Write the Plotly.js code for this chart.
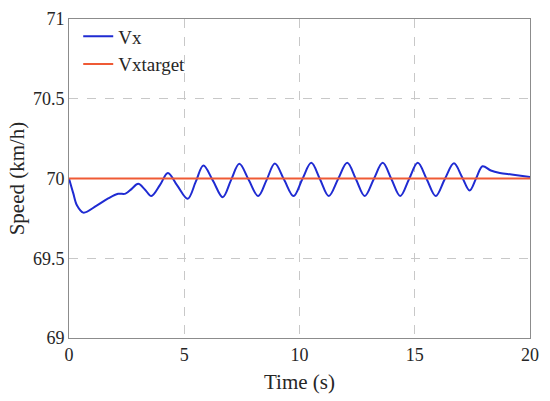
<!DOCTYPE html>
<html>
<head>
<meta charset="utf-8">
<script src="https://cdn.plot.ly/plotly-3.0.1.min.js"></script>
<style>html,body{margin:0;padding:0;background:#fff;}#chart{width:550px;height:401px;}</style>
</head>
<body>
<div id="chart"></div>
<script>
var timeS = [0, 0.18, 0.35, 0.62, 1.2, 1.7, 2.13, 2.45, 2.72, 3.0, 3.3, 3.57, 3.95, 4.29, 4.7, 5.15, 5.5, 5.83, 6.25, 6.67, 7.03, 7.39, 7.8, 8.21, 8.57, 8.93, 9.34, 9.74, 10.12, 10.51, 10.89, 11.27, 11.67, 12.07, 12.45, 12.83, 13.22, 13.61, 13.99, 14.37, 14.75, 15.13, 15.52, 15.91, 16.3, 16.70, 17.05, 17.38, 17.66, 17.94, 18.3, 18.69, 19.2, 20.0];
var vx = [70, 69.91, 69.83, 69.786, 69.83, 69.875, 69.904, 69.905, 69.935, 69.967, 69.93, 69.89, 69.96, 70.035, 69.955, 69.873, 69.98, 70.081, 69.985, 69.883, 69.99, 70.092, 69.99, 69.89, 69.99, 70.094, 69.99, 69.89, 69.995, 70.098, 69.995, 69.89, 69.995, 70.098, 69.995, 69.89, 69.995, 70.098, 69.995, 69.89, 69.995, 70.098, 69.995, 69.89, 69.995, 70.095, 70.01, 69.925, 70.0, 70.077, 70.05, 70.035, 70.025, 70.01];
var targetTime = [0, 20];
var vxTarget = [70, 70];
var xTicks = [0, 5, 10, 15, 20];
var yTicks = [69, 69.5, 70, 70.5, 71];

var fam = "Times New Roman, Liberation Serif, DejaVu Serif, serif";
var tickFont = {family: fam, size: 18, color: '#262626'};
var titleFont = {family: fam, size: 21, color: '#262626'};
var legendFont = {family: fam, size: 19, color: '#262626'};
var traces = [
  {x: timeS, y: vx, name: 'Vx', mode: 'lines', line: {color: '#1f2bd2', width: 2, shape: 'spline', smoothing: 1}},
  {x: targetTime, y: vxTarget, name: 'Vxtarget', mode: 'lines', line: {color: '#ef5a35', width: 2}}
];
var axisCommon = {
  showline: true, mirror: true, linecolor: '#8c8c8c', linewidth: 1,
  showgrid: true, gridcolor: '#c8c8c8', griddash: 'dash', gridwidth: 1,
  zeroline: false, ticks: '', tickfont: tickFont
};
var layout = {
  width: 550, height: 401,
  margin: {l: 69, r: 20, t: 19, b: 63},
  paper_bgcolor: '#ffffff', plot_bgcolor: '#ffffff',
  font: tickFont,
  showlegend: true,
  legend: {x: 0.02, y: 1.005, xanchor: 'left', yanchor: 'top', bgcolor: 'rgba(255,255,255,0)', borderwidth: 0, font: legendFont, tracegroupgap: 0},
  xaxis: Object.assign({}, axisCommon, {range: [0, 20], tickvals: xTicks, ticktext: xTicks.map(String), title: {text: 'Time (s)', font: titleFont, standoff: 10}}),
  yaxis: Object.assign({}, axisCommon, {range: [69, 71], tickvals: yTicks, ticktext: yTicks.map(String), title: {text: 'Speed (km/h)', font: titleFont, standoff: 2}})
};
Plotly.newPlot('chart', traces, layout, {staticPlot: true, displayModeBar: false});
</script>
</body>
</html>
